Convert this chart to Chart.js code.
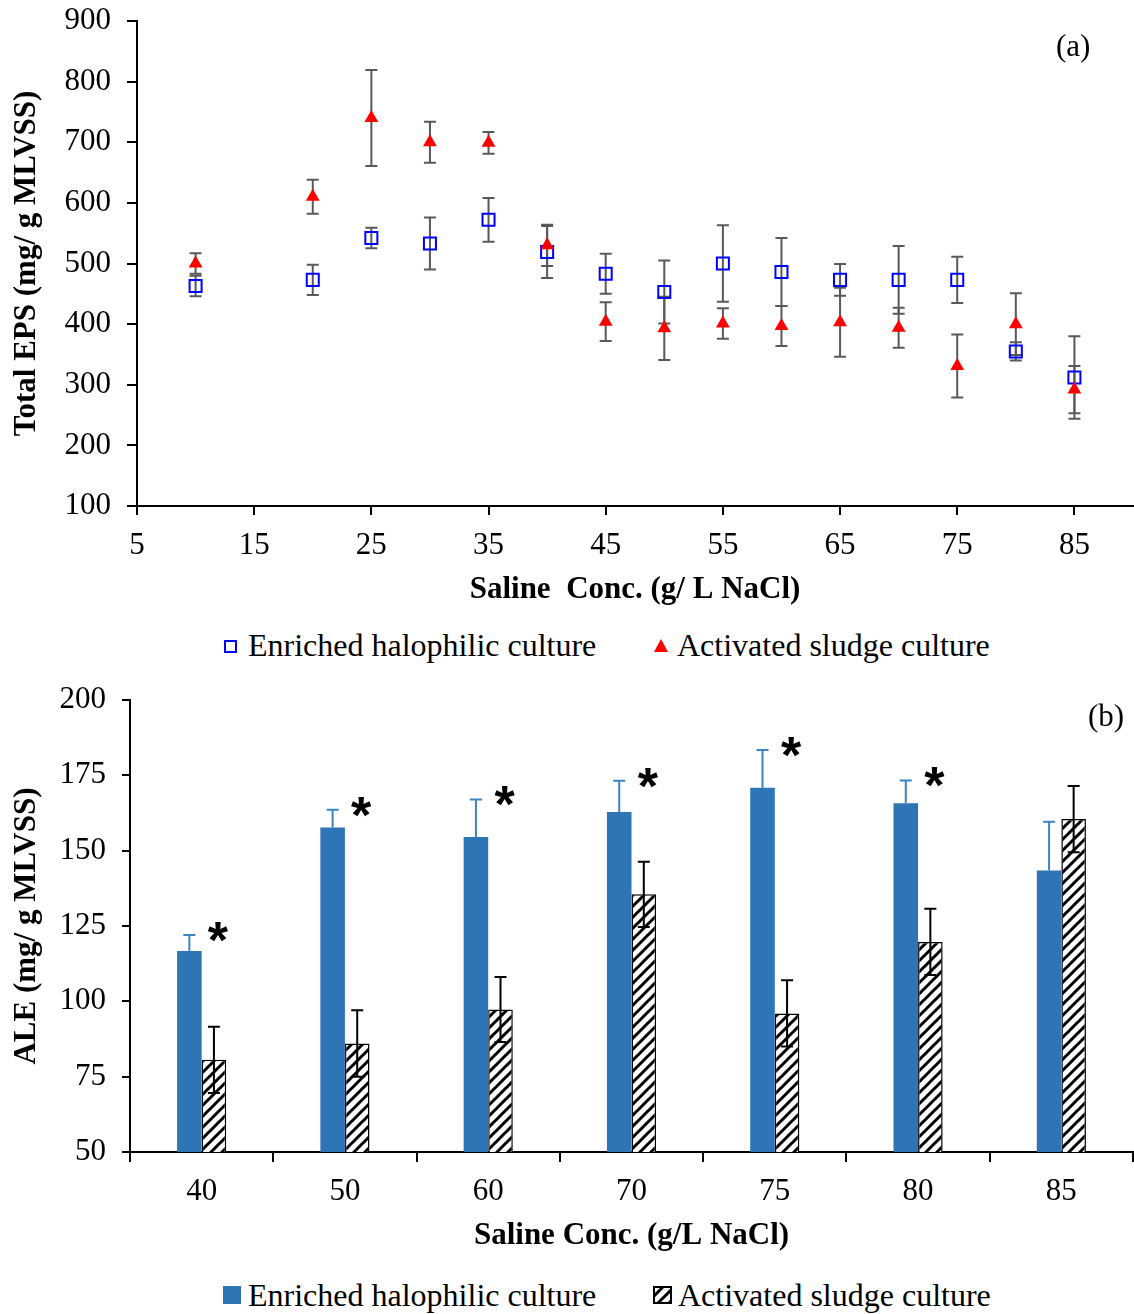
<!DOCTYPE html>
<html>
<head>
<meta charset="utf-8">
<script src="https://cdn.jsdelivr.net/npm/chart.js@4.4.0/dist/chart.umd.min.js"></script>
<style>
  body { margin: 0; background: #fff; }
  #pagina { position: relative; width: 1134px; height: 1314px; font-family: "Liberation Serif", "Times New Roman", serif; color: #000; }
  .caixa { position: absolute; left: 0; }
  .txt { position: absolute; font-size: 31px; line-height: 36px; white-space: nowrap; }
  .leg { font-size: 32px; }
  .quadrado { position: absolute; box-sizing: border-box; }
  .triangulo { position: absolute; width: 0; height: 0; border-left: 7px solid transparent; border-right: 7px solid transparent; border-bottom: 13px solid #ff0000; }
</style>
</head>
<body>
<div id="pagina">
  <div class="caixa" style="top:0">
    <canvas id="graficoEps" width="1134" height="609"></canvas>
  </div>
  <div class="txt" style="left:1056px; top:28px">(a)</div>

  <!-- legenda (a) -->
  <div class="quadrado" style="left:224px; top:640px; width:13px; height:13px; border:2px solid #0000ff"></div>
  <div class="txt leg" style="left:248px; top:627px">Enriched halophilic culture</div>
  <div class="triangulo" style="left:654px; top:639px"></div>
  <div class="txt leg" style="left:677px; top:627px">Activated sludge culture</div>

  <div class="caixa" style="top:670px">
    <canvas id="graficoAle" width="1134" height="585"></canvas>
  </div>
  <div class="txt" style="left:1088px; top:698px">(b)</div>

  <!-- legenda (b) -->
  <div class="quadrado" style="left:223px; top:1286px; width:18px; height:18px; background:#2e75b6"></div>
  <div class="txt leg" style="left:248px; top:1277px">Enriched halophilic culture</div>
  <canvas id="legendaHachura" class="quadrado" width="19" height="18" style="left:653px; top:1286px"></canvas>
  <div class="txt leg" style="left:678px; top:1277px">Activated sludge culture</div>
</div>

<script>
// ===== DADOS (a) =====
const salinidade = [10, 20, 25, 30, 35, 40, 45, 50, 55, 60, 65, 70, 75, 80, 85];
const epsHalofilica = [463, 473, 542, 533, 572, 519, 483, 453, 500, 486, 473, 473, 473, 355, 312];
const erroEpsHalofilica = [17, 25, 17, 43, 36, 43, 33, 52, 63, 56, 26, 56, 38, 15, 68];
const epsLodo = [500, 610, 740, 700, 699, 530, 404, 393, 401, 397, 403, 394, 331, 400, 292];
const erroEpsLodo = [17, 28, 79, 34, 18, 34, 32, 52, 25, 33, 57, 33, 52, 51, 39];
const ticksSalinidade = [5, 15, 25, 35, 45, 55, 65, 75, 85];

// ===== DADOS (b) =====
const categorias = ["40", "50", "60", "70", "75", "80", "85"];
const aleHalofilica = [116.7, 157.7, 154.5, 162.8, 170.9, 165.7, 143.4];
const erroAleHalofilica = [5.3, 5.9, 12.5, 10.4, 12.5, 7.6, 16.2];
const aleLodo = [80.6, 86, 97.3, 135.5, 96, 119.7, 160.5];
const erroAleLodo = [11, 11, 10.8, 10.8, 11, 11, 11];
const significativo = [true, true, true, true, true, true, false];

const fonte = '"Liberation Serif", "Times New Roman", serif';

Chart.defaults.color = "#000";
Chart.defaults.font.family = fonte;
Chart.defaults.animation = false;

function criarHachura() {
  const c = document.createElement("canvas");
  c.width = 11;
  c.height = 11;
  const g = c.getContext("2d");
  g.fillStyle = "#fff";
  g.fillRect(0, 0, 11, 11);
  g.strokeStyle = "#000";
  g.lineWidth = 3;
  g.beginPath();
  g.moveTo(0, 11); g.lineTo(11, 0);
  g.moveTo(-3, 3); g.lineTo(3, -3);
  g.moveTo(8, 14); g.lineTo(14, 8);
  g.stroke();
  return g.createPattern(c, "repeat");
}

function eixoComum(tamanhoTick) {
  return {
    border: { display: true, color: "#000", width: 2 },
    grid: { display: true, drawOnChartArea: false, drawTicks: true, tickLength: tamanhoTick, color: "#000", lineWidth: 2 },
  };
}

// tira as folgas que o Chart.js reserva para os rotulos das pontas
function semFolga(eixo) {
  eixo.paddingLeft = 0;
  eixo.paddingRight = 0;
  eixo.paddingTop = 0;
  eixo.paddingBottom = 0;
}

const barrasErroEps = {
  id: "barrasErroEps",
  beforeDatasetsDraw(chart) {
    const { ctx, scales: { x, y } } = chart;
    ctx.save();
    ctx.strokeStyle = "#595959";
    ctx.lineWidth = 2;
    [[epsHalofilica, erroEpsHalofilica], [epsLodo, erroEpsLodo]].forEach(([valores, erros]) => {
      valores.forEach((v, i) => {
        const px = x.getPixelForValue(salinidade[i]);
        const topo = y.getPixelForValue(v + erros[i]);
        const base = y.getPixelForValue(v - erros[i]);
        ctx.beginPath();
        ctx.moveTo(px, topo); ctx.lineTo(px, base);
        ctx.moveTo(px - 6, topo); ctx.lineTo(px + 6, topo);
        ctx.moveTo(px - 6, base); ctx.lineTo(px + 6, base);
        ctx.stroke();
      });
    });
    ctx.restore();
  },
};

function montarGraficoEps() {
  const ctx = document.getElementById("graficoEps").getContext("2d");
  new Chart(ctx, {
    type: "scatter",
    data: {
      datasets: [
        {
          label: "Enriched halophilic culture",
          data: salinidade.map((x, i) => ({ x, y: epsHalofilica[i] })),
          pointStyle: "rect",
          pointRadius: 8.5,
          pointBorderWidth: 2,
          pointBorderColor: "#0000ff",
          pointBackgroundColor: "rgba(255,255,255,0)",
          order: 1,
        },
        {
          label: "Activated sludge culture",
          data: salinidade.map((x, i) => ({ x, y: epsLodo[i] })),
          pointStyle: "triangle",
          pointRadius: 8,
          pointBorderWidth: 0,
          pointBorderColor: "#ff0000",
          pointBackgroundColor: "#ff0000",
          order: 0,
        },
      ],
    },
    options: {
      responsive: false,
      layout: { autoPadding: false, padding: { top: 21, right: 1, left: 0, bottom: 0 } },
      plugins: { legend: { display: false }, tooltip: { enabled: false } },
      scales: {
        x: {
          type: "linear",
          min: 5,
          max: 90,
          ...eixoComum(9),
          afterBuildTicks: (eixo) => { eixo.ticks = ticksSalinidade.map((v) => ({ value: v })); },
          afterFit: (eixo) => { eixo.height = 103; semFolga(eixo); },
          ticks: { color: "#000", font: { family: fonte, size: 31 }, padding: 12, maxRotation: 0, autoSkip: false },
          title: { display: true, text: "Saline  Conc. (g/ L NaCl)", color: "#000", font: { family: fonte, size: 31, weight: "bold" }, padding: 0 },
        },
        y: {
          min: 100,
          max: 900,
          ...eixoComum(10),
          afterFit: (eixo) => { eixo.width = 137; semFolga(eixo); },
          ticks: { stepSize: 100, color: "#000", font: { family: fonte, size: 31 }, padding: 16 },
          title: { display: true, text: "Total EPS (mg/ g MLVSS)", color: "#000", font: { family: fonte, size: 31, weight: "bold" }, padding: { top: 8, bottom: 0 } },
        },
      },
    },
    plugins: [barrasErroEps],
  });
}

const barrasErroAle = {
  id: "barrasErroAle",
  afterDatasetsDraw(chart) {
    const { ctx, scales: { y } } = chart;
    const metaHalo = chart.getDatasetMeta(0);
    const metaLodo = chart.getDatasetMeta(1);
    ctx.save();
    ctx.lineWidth = 2;

    // halofilica: so a parte de cima
    ctx.strokeStyle = "#3b84c6";
    aleHalofilica.forEach((v, i) => {
      const px = metaHalo.data[i].x;
      const topo = y.getPixelForValue(v + erroAleHalofilica[i]);
      const base = y.getPixelForValue(v);
      ctx.beginPath();
      ctx.moveTo(px, topo); ctx.lineTo(px, base);
      ctx.moveTo(px - 6, topo); ctx.lineTo(px + 6, topo);
      ctx.stroke();
    });

    ctx.strokeStyle = "#000";
    aleLodo.forEach((v, i) => {
      const px = metaLodo.data[i].x;
      const topo = y.getPixelForValue(v + erroAleLodo[i]);
      const base = y.getPixelForValue(v - erroAleLodo[i]);
      ctx.beginPath();
      ctx.moveTo(px, topo); ctx.lineTo(px, base);
      ctx.moveTo(px - 6, topo); ctx.lineTo(px + 6, topo);
      ctx.moveTo(px - 6, base); ctx.lineTo(px + 6, base);
      ctx.stroke();
    });

    // asteriscos de diferenca significativa
    ctx.fillStyle = "#000";
    ctx.font = 'bold 52px "Liberation Sans", Arial, sans-serif';
    ctx.textAlign = "center";
    ctx.textBaseline = "alphabetic";
    significativo.forEach((s, i) => {
      if (!s) return;
      const px = metaLodo.data[i].x + 4;
      const py = y.getPixelForValue(aleHalofilica[i] + erroAleHalofilica[i]);
      ctx.fillText("*", px, py + 23);
    });
    ctx.restore();
  },
};

function montarGraficoAle() {
  const hachura = criarHachura();
  const ctx = document.getElementById("graficoAle").getContext("2d");
  new Chart(ctx, {
    type: "bar",
    data: {
      labels: categorias,
      datasets: [
        {
          label: "Enriched halophilic culture",
          data: aleHalofilica,
          backgroundColor: "#2e75b6",
          borderWidth: 0,
        },
        {
          label: "Activated sludge culture",
          data: aleLodo,
          backgroundColor: hachura,
          borderColor: "#000",
          borderWidth: 1.5,
          borderSkipped: false,
        },
      ],
    },
    options: {
      responsive: false,
      layout: { autoPadding: false, padding: { top: 30, right: 1, left: 0, bottom: 0 } },
      datasets: { bar: { categoryPercentage: 0.343, barPercentage: 1.0 } },
      plugins: { legend: { display: false }, tooltip: { enabled: false } },
      scales: {
        x: {
          ...eixoComum(10),
          afterFit: (eixo) => { eixo.height = 103; semFolga(eixo); },
          ticks: { color: "#000", font: { family: fonte, size: 31 }, padding: 11, maxRotation: 0 },
          title: { display: true, text: "Saline Conc. (g/L NaCl)", color: "#000", font: { family: fonte, size: 31, weight: "bold" }, padding: 0 },
        },
        y: {
          min: 50,
          max: 200,
          ...eixoComum(8),
          afterFit: (eixo) => { eixo.width = 130; semFolga(eixo); },
          ticks: { stepSize: 25, color: "#000", font: { family: fonte, size: 31 }, padding: 16 },
          title: { display: true, text: "ALE (mg/ g MLVSS)", color: "#000", font: { family: fonte, size: 31, weight: "bold" }, padding: { top: 8, bottom: 0 } },
        },
      },
    },
    plugins: [barrasErroAle],
  });

  // caixinha da legenda com a mesma hachura
  const leg = document.getElementById("legendaHachura").getContext("2d");
  leg.fillStyle = hachura;
  leg.fillRect(0, 0, 19, 18);
  leg.strokeStyle = "#000";
  leg.lineWidth = 2;
  leg.strokeRect(1, 1, 17, 16);
}

document.addEventListener("DOMContentLoaded", () => {
  montarGraficoEps();
  montarGraficoAle();
});
</script>
</body>
</html>
